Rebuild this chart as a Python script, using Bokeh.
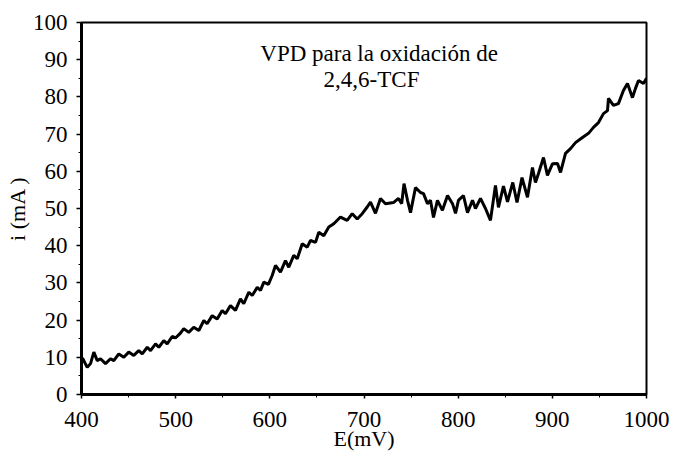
from bokeh.plotting import figure
from bokeh.models import Range1d, Label, FixedTicker
from bokeh.embed import file_html
from bokeh.resources import INLINE

# Potential (mV) and current (mA)
E_mV = [401.0, 406.1, 409.6, 413.1, 416.7, 420.2, 425.5, 430.8, 434.3, 439.6,
        444.9, 450.2, 455.5, 460.8, 464.5, 469.8, 473.3, 478.6, 482.1, 487.4,
        491.0, 496.3, 499.8, 505.1, 508.6, 513.9, 519.2, 524.6, 529.9, 533.4,
        538.8, 544.1, 549.4, 552.9, 558.2, 563.5, 568.8, 572.3, 577.7, 581.3,
        586.6, 590.1, 593.6, 598.5, 602.5, 606.0, 611.3, 616.6, 620.1, 625.4,
        629.1, 634.4, 639.7, 643.2, 648.5, 652.0, 657.3, 662.6, 667.9, 675.0,
        682.1, 687.5, 692.8, 698.1, 703.4, 706.9, 712.2, 717.5, 722.8, 731.3,
        736.6, 740.0, 742.5, 746.2, 749.4, 754.7, 760.0, 763.2, 767.4, 770.6,
        773.8, 778.0, 783.3, 788.7, 794.0, 797.2, 800.3, 805.6, 809.9, 815.2,
        818.4, 823.7, 829.0, 834.3, 839.6, 842.8, 848.1, 852.4, 858.0, 862.5,
        867.8, 873.6, 878.9, 882.1, 885.3, 890.6, 894.8, 900.1, 905.5, 908.7,
        914.0, 919.3, 924.6, 932.0, 938.4, 943.7, 949.0, 954.3, 958.6, 959.6,
        964.9, 970.2, 975.5, 979.8, 985.1, 988.3, 991.5, 996.8, 1000.0]
i_mA = [9.8, 7.3, 8.3, 11.4, 9.1, 9.6, 8.3, 9.6, 9.1, 10.9,
        10.0, 11.4, 10.5, 11.8, 10.9, 12.7, 11.8, 13.6, 12.7, 14.5,
        13.6, 15.6, 15.2, 16.5, 17.7, 16.7, 18.1, 17.2, 19.9, 19.0,
        21.2, 20.3, 22.6, 21.7, 23.9, 22.6, 25.7, 24.4, 27.5, 26.6,
        28.8, 28.0, 30.2, 29.6, 32.0, 34.7, 32.9, 36.0, 34.2, 37.4,
        36.5, 40.5, 39.6, 41.4, 40.9, 43.6, 42.7, 45.0, 45.9, 47.7,
        46.8, 48.6, 47.2, 48.6, 50.4, 51.7, 48.7, 52.7, 51.3, 51.6,
        52.7, 51.3, 56.7, 52.2, 48.9, 55.6, 54.3, 54.0, 51.3, 52.2,
        47.6, 52.2, 49.5, 53.5, 51.3, 48.7, 52.2, 53.5, 48.9, 52.2,
        50.0, 52.7, 50.0, 46.8, 56.2, 50.3, 56.0, 51.8, 57.0, 51.6,
        58.3, 53.0, 61.0, 57.0, 59.4, 63.7, 58.9, 62.0, 62.1, 59.7,
        64.8, 66.1, 67.7, 69.1, 70.2, 71.8, 73.1, 75.5, 76.3, 79.6,
        77.7, 78.2, 81.7, 83.6, 79.8, 82.3, 84.4, 83.6, 85.0]

x_ticks = [400, 500, 600, 700, 800, 900, 1000]
y_ticks = [0, 10, 20, 30, 40, 50, 60, 70, 80, 90, 100]
title_lines = ["VPD para la oxidación de", "2,4,6-TCF"]

FONT = "Liberation Serif"

p = figure(width=675, height=466, output_backend="svg", toolbar_location=None,
           x_range=Range1d(400, 1000), y_range=Range1d(0, 100),
           min_border_left=81, min_border_right=29, min_border_top=22,
           min_border_bottom=72)
p.background_fill_color = "white"
p.border_fill_color = "white"
p.outline_line_color = "black"
p.outline_line_width = 2
p.xgrid.visible = False
p.ygrid.visible = False

p.line(E_mV, i_mA, line_color="black", line_width=3)

for ax in (p.xaxis[0], p.yaxis[0]):
    ax.axis_line_width = 3
    ax.axis_line_color = "black"
    ax.major_tick_line_color = "black"
    ax.minor_tick_line_color = "black"
    ax.major_tick_line_width = 1.5
    ax.major_tick_in = 0
    ax.minor_tick_in = 0
    ax.major_label_text_font = FONT
    ax.major_label_text_font_size = "23px"
    ax.major_label_text_color = "black"
    ax.axis_label_text_font = FONT
    ax.axis_label_text_font_size = "22px"
    ax.axis_label_text_font_style = "normal"
    ax.axis_label_text_color = "black"

p.xaxis.ticker = FixedTicker(ticks=x_ticks, minor_ticks=list(range(400, 1001, 50)))
p.yaxis.ticker = FixedTicker(ticks=y_ticks, minor_ticks=list(range(0, 101, 5)))
p.xaxis.major_tick_out = 4
p.xaxis.minor_tick_out = 3
p.yaxis.major_tick_out = 5
p.yaxis.minor_tick_out = 3
p.xaxis.major_label_standoff = 13
p.yaxis.major_label_standoff = 9

p.xaxis.axis_label = "E(mV)"
p.xaxis.axis_label_standoff = -4
p.yaxis.axis_label = "i (mA )"
p.yaxis.axis_label_standoff = 0

p.add_layout(Label(x=716, y=91.7, text=title_lines[0], text_font=FONT,
                   text_font_size="23px", text_align="center",
                   text_baseline="alphabetic", text_color="black"))
p.add_layout(Label(x=708, y=84.7, text=title_lines[1], text_font=FONT,
                   text_font_size="23px", text_align="center",
                   text_baseline="alphabetic", text_color="black"))

open("out.html", "w").write(file_html(p, INLINE))
